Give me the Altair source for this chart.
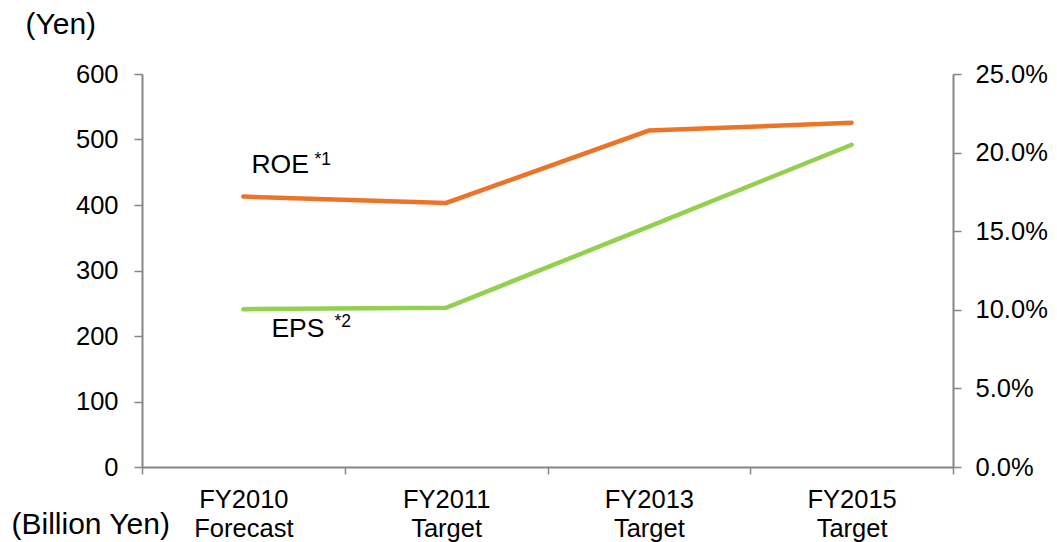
import altair as alt
import pandas as pd

# Fiscal-year categories (second word goes on a new label line)
categories = ["FY2010 Forecast", "FY2011 Target", "FY2013 Target", "FY2015 Target"]
# Earnings per share, yen (left axis)
eps_yen = [241, 243, 367, 492]
# Return on equity, ratio (right axis)
roe_ratio = [0.172, 0.168, 0.214, 0.219]

df = pd.DataFrame({"cat": categories, "eps": eps_yen, "roe": roe_ratio})

FONT = "Liberation Sans"
AXIS_GRAY = "#868686"
ORANGE = "#ED7427"
GREEN = "#92D050"
LABEL_SIZE = 25.5
TITLE_SIZE = 30
NAME_SIZE = 26.5
NOTE_SIZE = 17.5

base = alt.Chart(df)

x_enc = alt.X(
    "cat:N",
    sort=categories,
    scale=alt.Scale(type="band", paddingInner=0, paddingOuter=0),
    bandPosition=0.5,
    axis=alt.Axis(
        title="(Billion Yen)",
        titleFont=FONT,
        titleFontSize=TITLE_SIZE,
        titleFontWeight="normal",
        titleColor="black",
        titleAngle=0,
        titleAlign="left",
        titleBaseline="alphabetic",
        titleAnchor="start",
        titleX=-131,
        titleY=66,
        labelExpr="split(datum.label, ' ')",
        labelAngle=0,
        labelLineHeight=29,
        labelBaseline="top",
        labelPadding=13,
        tickBand="extent",
        tickSize=7,
        grid=False,
    ),
)

eps_y = alt.Y(
    "eps:Q",
    scale=alt.Scale(domain=[0, 600], nice=False, zero=True),
    axis=alt.Axis(
        orient="left",
        values=[0, 100, 200, 300, 400, 500, 600],
        title="(Yen)",
        titleFont=FONT,
        titleFontSize=TITLE_SIZE,
        titleFontWeight="normal",
        titleColor="black",
        titleAngle=0,
        titleAlign="left",
        titleBaseline="alphabetic",
        titleAnchor="start",
        titleX=-117,
        titleY=-41,
        labelPadding=16,
        tickSize=8,
        grid=False,
    ),
)

roe_y = alt.Y(
    "roe:Q",
    scale=alt.Scale(domain=[0, 0.25], nice=False, zero=True),
    axis=alt.Axis(
        orient="right",
        values=[0, 0.05, 0.10, 0.15, 0.20, 0.25],
        format=".1%",
        title=None,
        labelPadding=14,
        tickSize=8,
        grid=False,
    ),
)

eps_line = base.mark_line(color=GREEN, strokeWidth=4.5, strokeCap="round").encode(x=x_enc, y=eps_y)
roe_line = base.mark_line(color=ORANGE, strokeWidth=4.5, strokeCap="round").encode(x=x_enc, y=roe_y)

first = alt.datum.cat == categories[0]

# Series names with footnote markers, anchored to the first point of each line
eps_name = base.transform_filter(first).mark_text(
    text="EPS", font=FONT, fontSize=NAME_SIZE, align="left", baseline="alphabetic", dx=28, dy=27.5, color="black"
).encode(x=x_enc, y=eps_y)
eps_note = base.transform_filter(first).mark_text(
    text="*2", font=FONT, fontSize=NOTE_SIZE, align="left", baseline="alphabetic", dx=91, dy=17.5, color="black"
).encode(x=x_enc, y=eps_y)

roe_name = base.transform_filter(first).mark_text(
    text="ROE", font=FONT, fontSize=NAME_SIZE, align="left", baseline="alphabetic", dx=8, dy=-23.5, color="black"
).encode(x=x_enc, y=roe_y)
roe_note = base.transform_filter(first).mark_text(
    text="*1", font=FONT, fontSize=NOTE_SIZE, align="left", baseline="alphabetic", dx=71, dy=-31.5, color="black"
).encode(x=x_enc, y=roe_y)

eps_layer = alt.layer(eps_line, eps_name, eps_note)
roe_layer = alt.layer(roe_line, roe_name, roe_note)

chart = (
    alt.layer(eps_layer, roe_layer)
    .resolve_scale(y="independent")
    .properties(
        width=811,
        height=393,
        autosize=alt.AutoSizeParams(type="none"),
        padding={"left": 142, "top": 74, "right": 104, "bottom": 75},
        background="white",
    )
    .configure_view(stroke=None)
    .configure_axis(
        domainColor=AXIS_GRAY,
        domainWidth=2,
        tickColor=AXIS_GRAY,
        tickWidth=1.5,
        labelFont=FONT,
        labelFontSize=LABEL_SIZE,
        labelColor="black",
    )
)

chart.save("out.html", embed_options={"renderer": "svg", "actions": False})
